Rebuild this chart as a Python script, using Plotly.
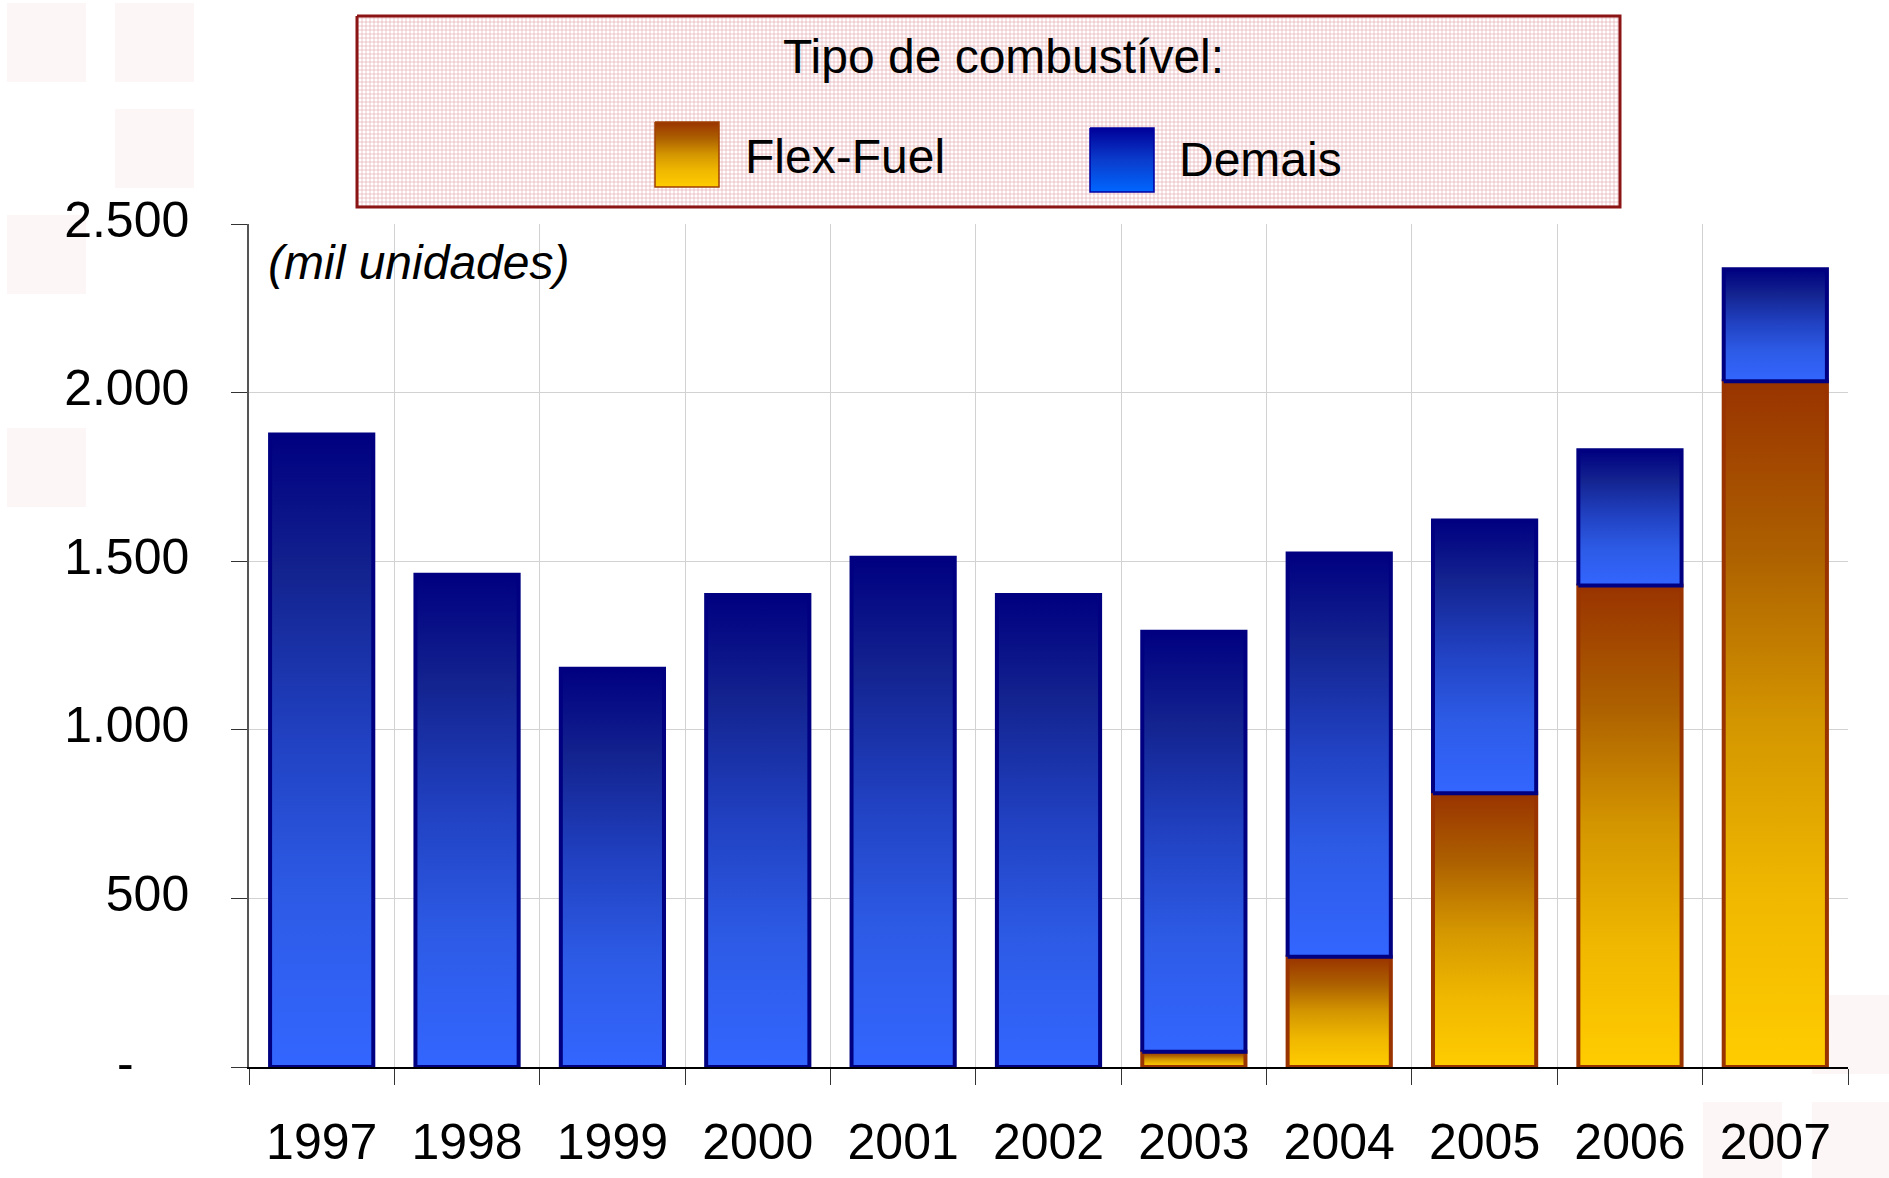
import plotly.graph_objects as go

# Licenciamento de autoveículos leves por tipo de combustível (mil unidades)
years = ["1997", "1998", "1999", "2000", "2001", "2002", "2003", "2004", "2005", "2006", "2007"]
flex_fuel = [0, 0, 0, 0, 0, 0, 45, 327, 812, 1428, 2034]
demais = [1876, 1460, 1181, 1400, 1510, 1400, 1246, 1196, 809, 401, 332]

y_tick_values = [0, 500, 1000, 1500, 2000, 2500]
y_tick_labels = ["-\u00a0\u00a0\u00a0\u00a0", "500", "1.000", "1.500", "2.000", "2.500"]

legend_title = "Tipo de combustível:"
series_names = ["Flex-Fuel", "Demais"]
unit_note = "(mil unidades)"

# ---- page geometry (pixels) ----
W, H = 1889, 1178
PLOT_L, PLOT_R, PLOT_T, PLOT_B = 249, 1848, 224, 1067
BAR_W = 0.71
FONT = "Liberation Sans, Arial, sans-serif"

BLUE_SCALE = [[0, "#3366ff"], [0.27, "#2d5be6"], [0.53, "#2040c0"],
              [0.78, "#13238f"], [1, "#000080"]]
FLEX_SCALE = [[0, "#ffcc00"], [0.25, "#f0b800"], [0.5, "#d49600"],
              [0.75, "#ad6000"], [1, "#993300"]]
BLUE_EDGE = "#000080"
FLEX_EDGE = "#993300"


def px_x(p):
    return p / W


def px_y(p):
    return 1 - p / H


fig = go.Figure()


def add_segment(i, base, value, scale, edge, name):
    """One stacked bar segment drawn as a filled rectangle with a vertical gradient."""
    if value <= 0:
        return
    x0, x1 = i - BAR_W / 2, i + BAR_W / 2
    y0, y1 = base, base + value
    fig.add_trace(go.Scatter(
        x=[x0, x1, x1, x0, x0], y=[y0, y0, y1, y1, y0],
        mode="lines", fill="toself",
        fillgradient=dict(type="vertical", colorscale=scale, start=y0, stop=y1),
        line=dict(color=edge, width=4),
        name=name, showlegend=False,
        hovertemplate=f"{years[i]}<br>{name}: {value:,}<extra></extra>".replace(",", "."),
        xaxis="x", yaxis="y",
    ))


# Flex-Fuel at the base, Demais stacked on top
for i, v in enumerate(flex_fuel):
    add_segment(i, 0, v, FLEX_SCALE, FLEX_EDGE, series_names[0])
for i, v in enumerate(demais):
    add_segment(i, flex_fuel[i], v, BLUE_SCALE, BLUE_EDGE, series_names[1])

# ---- legend panel (drawn on a full-page pixel overlay axis) ----
BOX = (357, 16, 1620, 207)
fig.add_trace(go.Scatter(
    x=[BOX[0], BOX[2], BOX[2], BOX[0], BOX[0]],
    y=[BOX[1], BOX[1], BOX[3], BOX[3], BOX[1]],
    mode="lines", fill="toself",
    fillcolor="#f3d8da",
    fillpattern=dict(shape="+", size=4, solidity=0.3, fgcolor="#e3a9af",
                     bgcolor="#ffffff", fillmode="replace"),
    line=dict(color="#8b1414", width=3),
    hoverinfo="skip", showlegend=False, xaxis="x2", yaxis="y2",
))

swatches = [
    ((655, 122, 719, 187), FLEX_SCALE, "#a04000"),
    ((1090, 128, 1154, 192), [[0, "#0066ff"], [0.5, "#0a3ccc"], [1, "#000099"]], "#0000a0"),
]
for (sx0, sy0, sx1, sy1), scale, edge in swatches:
    fig.add_trace(go.Scatter(
        x=[sx0, sx1, sx1, sx0, sx0], y=[sy0, sy0, sy1, sy1, sy0],
        mode="lines", fill="toself",
        fillgradient=dict(type="vertical", colorscale=scale, start=sy1, stop=sy0),
        line=dict(color=edge, width=1.5),
        hoverinfo="skip", showlegend=False, xaxis="x2", yaxis="y2",
    ))

annotations = [
    dict(text=legend_title, x=px_x(1003), y=px_y(56), xanchor="center", yanchor="middle",
         font=dict(size=48, color="#000000", family=FONT)),
    dict(text=series_names[0], x=px_x(743), y=px_y(157), xanchor="left", yanchor="middle",
         font=dict(size=48, color="#000000", family=FONT)),
    dict(text=series_names[1], x=px_x(1177), y=px_y(159), xanchor="left", yanchor="middle",
         font=dict(size=48, color="#000000", family=FONT)),
    dict(text=f"<i>{unit_note}</i>", x=px_x(266), y=px_y(262), xanchor="left", yanchor="middle",
         font=dict(size=48, color="#000000", family=FONT)),
]
for a in annotations:
    a.update(xref="paper", yref="paper", showarrow=False)

# faint background tiles
tiles = [(7, 3), (115, 3), (115, 109), (7, 215), (7, 428),
         (1703, 1102), (1812, 1102), (1812, 995)]
shapes = [dict(type="rect", xref="paper", yref="paper", layer="below",
               x0=px_x(tx), x1=px_x(tx + 79), y0=px_y(ty + 79), y1=px_y(ty),
               fillcolor="#fdf6f6", line=dict(width=0))
          for tx, ty in tiles]

fig.update_layout(
    width=W, height=H,
    margin=dict(l=0, r=0, t=0, b=0),
    paper_bgcolor="#ffffff",
    plot_bgcolor="rgba(0,0,0,0)",
    font=dict(family=FONT, color="#000000"),
    showlegend=False,
    annotations=annotations,
    shapes=shapes,
    xaxis=dict(
        domain=[px_x(PLOT_L), px_x(PLOT_R)], range=[-0.5, len(years) - 0.5],
        tickmode="array", tickvals=list(range(len(years))), ticktext=years,
        ticks="", showgrid=False, zeroline=False,
        showline=True, linecolor="#000000", linewidth=1.5,
        tickfont=dict(size=50, family=FONT, color="#000000"),
        ticklabelstandoff=30,
        minor=dict(tickmode="linear", tick0=-0.5, dtick=1, ticks="outside", ticklen=16,
                   tickwidth=1.2, tickcolor="#333333", showgrid=True,
                   gridcolor="#d2d2d2", gridwidth=1),
        automargin=False, fixedrange=True, anchor="y",
    ),
    yaxis=dict(
        domain=[px_y(PLOT_B), px_y(PLOT_T)], range=[0, 2500],
        tickmode="array", tickvals=y_tick_values, ticktext=y_tick_labels,
        ticks="outside", ticklen=16, tickwidth=1.2, tickcolor="#333333",
        showgrid=True, gridcolor="#d2d2d2", gridwidth=1, zeroline=False,
        showline=True, linecolor="#555555", linewidth=1.5,
        tickfont=dict(size=50, family=FONT, color="#000000"),
        ticklabelstandoff=32, ticklabelshift=-5,
        automargin=False, fixedrange=True, anchor="x",
    ),
    xaxis2=dict(domain=[0, 1], range=[0, W], visible=False, fixedrange=True, anchor="y2"),
    yaxis2=dict(domain=[0, 1], range=[H, 0], visible=False, fixedrange=True, anchor="x2"),
)

fig.write_html("out.html", config={"displayModeBar": False})
